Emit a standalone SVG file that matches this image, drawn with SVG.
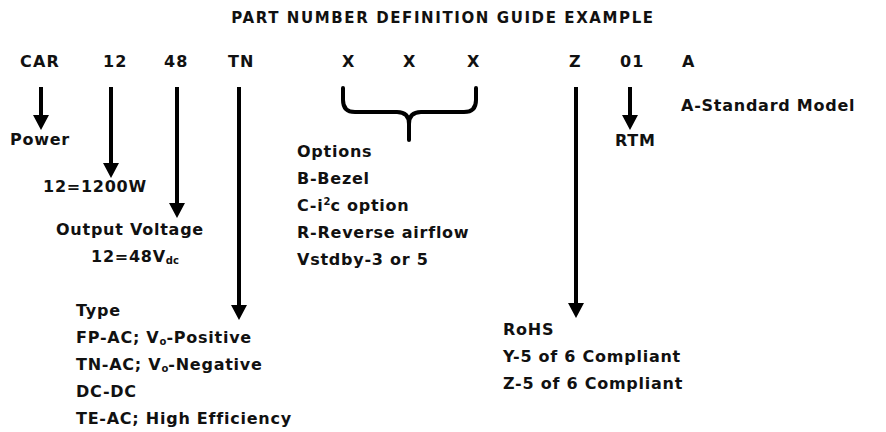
<svg xmlns="http://www.w3.org/2000/svg" width="886" height="432" viewBox="0 0 886 432">
<style>
text{font-family:"DejaVu Sans","Liberation Sans",sans-serif;font-weight:bold;fill:#111;font-size:16px;letter-spacing:0.75px}
.title{font-size:15px;letter-spacing:1.6px}
.hdr{font-size:16px;letter-spacing:1.2px}
.shaft{stroke:#000;stroke-width:4;fill:none}
.brace{stroke:#000;stroke-width:4;fill:none;stroke-linecap:round;stroke-linejoin:round}
.sub{font-size:10px;letter-spacing:0}
</style>
<defs>
<marker id="ah" viewBox="0 0 15 16" refX="0" refY="8" markerWidth="15" markerHeight="16" markerUnits="userSpaceOnUse" orient="auto">
<path d="M0,0 L15,8 L0,16 Z" fill="#000"/>
</marker>
</defs>
<rect width="886" height="432" fill="#fff"/>
<text class="title" x="443" y="23" text-anchor="middle">PART NUMBER DEFINITION GUIDE EXAMPLE</text>
<g id="header">
<text class="hdr" x="20" y="67">CAR</text>
<text class="hdr" x="103" y="67">12</text>
<text class="hdr" x="164" y="67">48</text>
<text class="hdr" x="228" y="67">TN</text>
<text class="hdr" x="342" y="67">X</text>
<text class="hdr" x="403" y="67">X</text>
<text class="hdr" x="467" y="67">X</text>
<text class="hdr" x="569" y="67">Z</text>
<text class="hdr" x="620" y="67">01</text>
<text class="hdr" x="682" y="67">A</text>
</g>
<g id="connectors">
<line class="shaft" x1="41" y1="87" x2="41" y2="115" marker-end="url(#ah)"/>
<line class="shaft" x1="111" y1="87" x2="111" y2="163" marker-end="url(#ah)"/>
<line class="shaft" x1="177" y1="87" x2="177" y2="203" marker-end="url(#ah)"/>
<line class="shaft" x1="239" y1="87" x2="239" y2="305" marker-end="url(#ah)"/>
<line class="shaft" x1="576" y1="87" x2="576" y2="303" marker-end="url(#ah)"/>
<line class="shaft" x1="630" y1="87" x2="630" y2="115" marker-end="url(#ah)"/>
<path class="brace" d="M343,88 L343,100 Q343,112 355,112 L397,112 Q409,112 409,124 L409,140 M409,124 Q409,112 421,112 L464,112 Q476,112 476,100 L476,88"/>
</g>
<g id="power"><text x="10" y="145">Power</text></g>
<g id="watts"><text x="43" y="192">12=1200W</text></g>
<g id="voltage">
<text x="56" y="235">Output Voltage</text>
<text x="91" y="262">12=48V<tspan class="sub" dy="2">dc</tspan></text>
</g>
<g id="type">
<text x="76" y="316">Type</text>
<text x="76" y="343">FP-AC; V<tspan class="sub" dy="2">o</tspan><tspan dy="-2">-Positive</tspan></text>
<text x="76" y="370">TN-AC; V<tspan class="sub" dy="2">o</tspan><tspan dy="-2">-Negative</tspan></text>
<text x="76" y="397">DC-DC</text>
<text x="76" y="424">TE-AC; High Efficiency</text>
</g>
<g id="options">
<text x="297" y="157">Options</text>
<text x="297" y="184">B-Bezel</text>
<text x="297" y="211">C-i<tspan class="sub" dy="-6">2</tspan><tspan dy="6">c option</tspan></text>
<text x="297" y="238">R-Reverse airflow</text>
<text x="297" y="265">Vstdby-3 or 5</text>
</g>
<g id="rohs">
<text x="503" y="335">RoHS</text>
<text x="503" y="362">Y-5 of 6 Compliant</text>
<text x="503" y="389">Z-5 of 6 Compliant</text>
</g>
<g id="rtm"><text x="615" y="146">RTM</text></g>
<g id="model"><text x="681" y="111">A-Standard Model</text></g>
</svg>
